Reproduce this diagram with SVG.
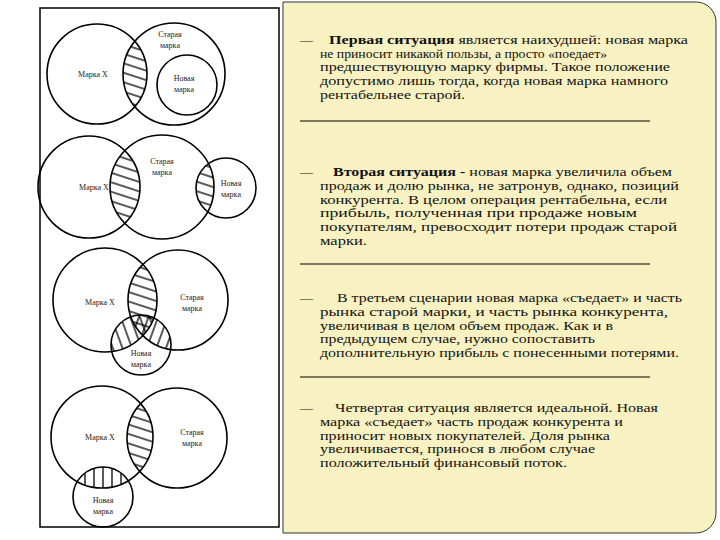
<svg xmlns="http://www.w3.org/2000/svg" width="720" height="540" viewBox="0 0 720 540">
<style>
.c{fill:none;stroke:#000;stroke-width:1.6}
.l{font-family:"Liberation Serif",serif;font-size:8px;text-anchor:middle;fill:#222}
.t{font-family:"Liberation Serif",serif;font-size:13px;fill:#111}
.h{stroke:#000;stroke-width:1.3}
.sep{stroke:#000;stroke-width:1}
</style>
<defs>
<pattern id="ph" width="9" height="9" patternUnits="userSpaceOnUse" patternTransform="rotate(18)"><line x1="0" y1="4" x2="9" y2="4" class="h"/></pattern>
<pattern id="pd" width="9" height="9" patternUnits="userSpaceOnUse" patternTransform="rotate(70)"><line x1="0" y1="4" x2="9" y2="4" class="h"/></pattern>
<pattern id="pd2" width="9" height="9" patternUnits="userSpaceOnUse" patternTransform="rotate(110)"><line x1="0" y1="4" x2="9" y2="4" class="h"/></pattern>
<pattern id="pv" width="9" height="9" patternUnits="userSpaceOnUse"><line x1="4" y1="0" x2="4" y2="9" class="h"/></pattern>
<clipPath id="a1"><circle cx="97" cy="74" r="50"/></clipPath>
<clipPath id="a2"><circle cx="89" cy="187" r="51"/></clipPath>
<clipPath id="b2"><circle cx="162" cy="187" r="52"/></clipPath>
<clipPath id="a3"><circle cx="105" cy="300" r="52"/></clipPath>
<clipPath id="b3"><circle cx="178" cy="300" r="50"/></clipPath>
<clipPath id="a4"><circle cx="102" cy="437" r="51"/></clipPath>
</defs>
<rect x="0" y="0" width="720" height="540" fill="#fff"/>
<path d="M283,2 H696 A20,20 0 0 1 716,22 V513 A20,20 0 0 1 696,533 H283 Z" fill="#f8f2c2" stroke="#333" stroke-width="1"/>
<rect x="40" y="8" width="239" height="519" fill="#fff" stroke="#000" stroke-width="1.5"/>

<g id="d1">
<circle cx="174" cy="74" r="51" fill="url(#ph)" clip-path="url(#a1)"/>
<circle class="c" cx="97" cy="74" r="50"/>
<circle class="c" cx="174" cy="74" r="51"/>
<circle class="c" cx="187" cy="85" r="30"/>
<text class="l" x="93" y="77">Марка X</text>
<text class="l" x="170" y="37">Старая</text><text class="l" x="170" y="48">марка</text>
<text class="l" x="184" y="81">Новая</text><text class="l" x="184" y="92">марка</text>
</g>
<g id="d2">
<circle cx="162" cy="187" r="52" fill="url(#ph)" clip-path="url(#a2)"/>
<circle cx="226" cy="188" r="30" fill="url(#ph)" clip-path="url(#b2)"/>
<circle class="c" cx="89" cy="187" r="51"/>
<circle class="c" cx="162" cy="187" r="52"/>
<circle class="c" cx="226" cy="188" r="30"/>
<text class="l" x="94" y="190">Марка X</text>
<text class="l" x="162" y="164">Старая</text><text class="l" x="162" y="175">марка</text>
<text class="l" x="231" y="186">Новая</text><text class="l" x="231" y="197">марка</text>
</g>
<g id="d3">
<circle cx="178" cy="300" r="50" fill="url(#ph)" clip-path="url(#a3)"/>
<circle cx="141" cy="345" r="30" fill="url(#pd)" clip-path="url(#a3)"/>
<circle cx="141" cy="345" r="30" fill="url(#pd2)" clip-path="url(#b3)"/>
<circle class="c" cx="105" cy="300" r="52"/>
<circle class="c" cx="178" cy="300" r="50"/>
<circle class="c" cx="141" cy="345" r="30"/>
<text class="l" x="100" y="305">Марка X</text>
<text class="l" x="192" y="300">Старая</text><text class="l" x="192" y="311">марка</text>
<text class="l" x="141" y="356">Новая</text><text class="l" x="141" y="367">марка</text>
</g>
<g id="d4">
<circle cx="177" cy="438" r="50" fill="url(#ph)" clip-path="url(#a4)"/>
<circle cx="103" cy="497" r="30" fill="url(#pv)" clip-path="url(#a4)"/>
<circle class="c" cx="102" cy="437" r="51"/>
<circle class="c" cx="177" cy="438" r="50"/>
<circle class="c" cx="103" cy="497" r="30"/>
<text class="l" x="100" y="440">Марка X</text>
<text class="l" x="192" y="435">Старая</text><text class="l" x="192" y="446">марка</text>
<text class="l" x="103" y="503">Новая</text><text class="l" x="103" y="514">марка</text>
</g>

<g id="connectors"></g>

<g id="texts">
<text class="t" x="300" y="44">—</text>
<text class="t" x="329" y="44" textLength="359" lengthAdjust="spacingAndGlyphs"><tspan font-weight="bold">Первая ситуация</tspan> является наихудшей: новая марка</text>
<text class="t" x="320" y="58" textLength="287" lengthAdjust="spacingAndGlyphs">не приносит никакой пользы, а просто «поедает»</text>
<text class="t" x="320" y="71" textLength="350" lengthAdjust="spacingAndGlyphs">предшествующую марку фирмы. Такое положение</text>
<text class="t" x="320" y="85" textLength="348" lengthAdjust="spacingAndGlyphs">допустимо лишь тогда, когда новая марка намного</text>
<text class="t" x="320" y="99" textLength="145" lengthAdjust="spacingAndGlyphs">рентабельнее старой.</text>
<line class="sep" x1="300" y1="121" x2="650" y2="121"/>
<text class="t" x="300" y="176">—</text>
<text class="t" x="333" y="176" textLength="339" lengthAdjust="spacingAndGlyphs"><tspan font-weight="bold">Вторая ситуация - </tspan>новая марка увеличила объем</text>
<text class="t" x="320" y="190" textLength="359" lengthAdjust="spacingAndGlyphs">продаж и долю рынка, не затронув, однако, позиций</text>
<text class="t" x="320" y="204" textLength="347" lengthAdjust="spacingAndGlyphs">конкурента. В целом операция рентабельна, если</text>
<text class="t" x="320" y="217" textLength="317" lengthAdjust="spacingAndGlyphs">прибыль, полученная при продаже новым</text>
<text class="t" x="320" y="231" textLength="357" lengthAdjust="spacingAndGlyphs">покупателям, превосходит потери продаж старой</text>
<text class="t" x="320" y="245" textLength="47" lengthAdjust="spacingAndGlyphs">марки.</text>
<line class="sep" x1="300" y1="264" x2="650" y2="264"/>
<text class="t" x="300" y="302">—</text>
<text class="t" x="337" y="302" textLength="345" lengthAdjust="spacingAndGlyphs">В третьем сценарии новая марка «съедает» и часть</text>
<text class="t" x="320" y="316" textLength="348" lengthAdjust="spacingAndGlyphs">рынка старой марки, и часть рынка конкурента,</text>
<text class="t" x="320" y="330" textLength="293" lengthAdjust="spacingAndGlyphs">увеличивая в целом объем продаж. Как и в</text>
<text class="t" x="320" y="343" textLength="275" lengthAdjust="spacingAndGlyphs">предыдущем случае, нужно сопоставить</text>
<text class="t" x="320" y="357" textLength="359" lengthAdjust="spacingAndGlyphs">дополнительную прибыль с понесенными потерями.</text>
<line class="sep" x1="300" y1="377" x2="650" y2="377"/>
<text class="t" x="300" y="412">—</text>
<text class="t" x="335" y="412" textLength="323" lengthAdjust="spacingAndGlyphs">Четвертая ситуация является идеальной. Новая</text>
<text class="t" x="320" y="426" textLength="303" lengthAdjust="spacingAndGlyphs">марка «съедает» часть продаж конкурента и</text>
<text class="t" x="320" y="440" textLength="290" lengthAdjust="spacingAndGlyphs">приносит новых покупателей. Доля рынка</text>
<text class="t" x="320" y="453" textLength="275" lengthAdjust="spacingAndGlyphs">увеличивается, принося в любом случае</text>
<text class="t" x="320" y="467" textLength="247" lengthAdjust="spacingAndGlyphs">положительный финансовый поток.</text>
</g>
</svg>
